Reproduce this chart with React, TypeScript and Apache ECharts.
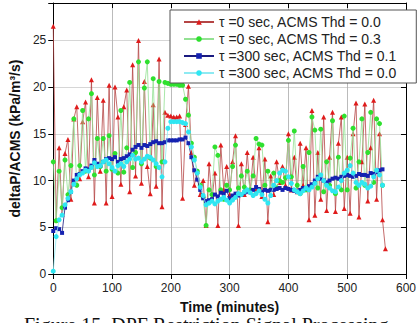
import React, { useEffect, useRef } from "react";
import * as echarts from "echarts";

const times = [
  0, 5, 10, 15, 20, 25, 30, 35, 40, 45,
  50, 55, 60, 65, 70, 75, 80, 85, 90, 95,
  100, 105, 110, 115, 120, 125, 130, 135, 140, 145,
  150, 155, 160, 165, 170, 175, 180, 185, 190, 195,
  200, 205, 210, 215, 220, 225, 230, 235, 240, 245,
  250, 255, 260, 265, 270, 275, 280, 285, 290, 295,
  300, 305, 310, 315, 320, 325, 330, 335, 340, 345,
  350, 355, 360, 365, 370, 375, 380, 385, 390, 395,
  400, 405, 410, 415, 420, 425, 430, 435, 440, 445,
  450, 455, 460, 465, 470, 475, 480, 485, 490, 495,
  500, 505, 510, 515, 520, 525, 530, 535, 540, 545,
  550, 555, 560, 565,
];

// tau = 0 sec, ACMS Thd = 0.0
const redValues = [
  26.5, 5.8, 13.5, 6.4, 12.9, 14.4, 8.0, 16.6, 17.9, 10.2,
  16.3, 18.4, 10.4, 20.8, 7.6, 18.9, 11.0, 18.6, 7.6, 20.2,
  8.3, 20.0, 16.8, 9.6, 17.9, 19.7, 8.8, 22.4, 10.5, 25.0,
  9.7, 20.6, 11.5, 8.6, 18.1, 9.4, 23.0, 7.2, 17.3, 17.0,
  16.9, 16.8, 16.8, 16.9, 8.1, 16.0, 20.1, 13.0, 9.5, 11.0,
  8.5, 10.0, 5.2, 11.8, 8.0, 10.8, 5.2, 13.8, 9.0, 11.5,
  8.5, 12.0, 14.8, 5.2, 11.8, 8.5, 13.0, 8.8, 12.5, 9.0,
  13.5, 8.3, 12.3, 5.6, 10.5, 8.5, 12.0, 9.8, 11.5, 9.5,
  15.0, 9.0, 12.5, 8.8, 14.0, 9.5, 13.5, 5.8, 17.5, 6.3,
  13.0, 8.0, 16.8, 6.8, 12.5, 17.3, 6.7, 14.0, 16.8, 7.0,
  12.5, 6.5, 15.0, 18.3, 6.1, 12.0, 18.2, 7.8, 13.5, 18.6,
  8.0, 15.0, 5.8, 2.7,
];

// tau = 0 sec, ACMS Thd = 0.3
const greenValues = [
  12.0, 5.7, 11.0, 7.1, 12.2, 8.5, 11.6, 16.6, 9.5, 11.6,
  17.5, 11.0, 16.6, 19.3, 10.6, 14.5, 11.5, 14.5, 11.0, 14.8,
  11.2, 12.9, 10.8, 17.5, 10.9, 13.5, 20.5, 11.4, 13.0, 22.7,
  11.8, 19.9, 22.7, 12.4, 20.9, 11.5, 20.6, 12.0, 20.5, 20.4,
  20.3, 20.3, 20.3, 20.2, 20.2, 18.7, 17.0, 14.0, 12.5, 11.0,
  9.5, 8.2, 5.2, 9.0, 8.5, 13.6, 12.7, 9.0, 8.0, 9.5,
  9.0, 11.5, 13.8, 9.2, 10.5, 9.3, 11.0, 9.0, 10.5, 14.5,
  13.9, 13.8, 9.5, 11.0, 9.0, 10.8, 9.2, 10.0, 9.8, 10.3,
  14.3, 10.4, 15.3, 9.5, 8.6, 11.5, 9.0, 13.0, 16.8, 15.4,
  9.2, 15.5, 8.8, 12.0, 9.5, 16.4, 8.6, 12.5, 9.0, 16.9,
  9.0, 12.4, 15.6, 9.2, 12.0, 16.6, 9.5, 13.0, 17.3, 9.8,
  16.6, 16.1, 9.5,
];

// tau = 300 sec, ACMS Thd = 0.1
const blueValues = [
  4.6, 4.9, 4.8, 4.4, 7.1, 7.9, 8.8, 10.0, 10.6, 10.7,
  11.0, 11.3, 11.2, 11.6, 12.2, 11.8, 11.6, 12.0, 12.3, 12.4,
  12.3, 12.5, 12.0, 12.3, 12.4, 12.6, 12.8, 13.3, 13.6, 13.8,
  13.5, 13.8, 13.7, 13.9, 14.1, 14.2, 14.0, 14.0, 14.1, 14.3,
  14.3, 14.3, 14.3, 14.4, 14.4, 14.6, 14.0, 12.5, 11.1, 10.1,
  9.0, 8.1, 7.8, 7.9, 8.0, 8.5, 8.3, 8.7, 8.6, 8.9,
  8.1, 8.4, 8.6, 8.4, 8.5, 8.7, 8.8, 8.8, 9.0, 9.3,
  9.1, 8.8, 9.0, 8.9, 9.0, 9.0, 9.1, 9.2, 9.0, 9.2,
  9.1, 9.0, 8.9, 8.8, 9.0, 9.2, 9.1, 9.4, 9.6, 10.0,
  10.4, 10.2, 10.0, 9.8, 10.0, 10.2, 10.3, 10.2, 10.4, 10.5,
  10.6, 10.5, 10.4, 10.5, 10.7, 10.6, 10.6, 10.5, 10.8, 10.7,
  10.9, 11.1, 11.2,
];

// tau = 300 sec, ACMS Thd = 0.0
const cyanValues = [
  0.3, 4.0, 5.8, 6.3, 7.4, 8.1, 8.8, 9.6, 10.2, 10.6,
  10.8, 11.1, 11.0, 11.4, 11.9, 11.5, 11.6, 12.0, 12.2, 11.8,
  11.4, 11.0, 11.6, 11.8, 11.5, 12.0, 12.3, 12.7, 12.3, 12.4,
  12.0, 12.3, 12.6, 12.5, 12.2, 11.8, 11.4, 10.4, 12.0, 15.6,
  16.3, 16.3, 16.3, 16.3, 16.2, 16.1, 15.2, 13.6, 12.2, 10.8,
  9.3, 8.4, 7.4, 7.6, 7.8, 7.5, 7.8, 8.0, 8.2, 7.9,
  7.6, 7.9, 8.2, 8.6, 8.5, 8.8, 9.0, 8.7, 8.4, 8.6,
  8.9, 8.5, 8.0, 7.6, 8.4, 9.5, 10.0, 10.8, 11.1, 11.0,
  10.4, 9.7, 9.0, 8.8, 8.6, 8.9, 9.2, 9.0, 9.3, 9.7,
  10.2, 10.6, 10.0, 9.5, 9.2, 8.9, 8.8, 9.3, 10.0, 10.8,
  11.1, 11.6, 10.8, 9.8, 9.5, 9.8, 9.6, 9.2, 9.4, 10.4,
  11.1, 10.6, 9.5,
];

const seriesNames = [
  "τ =0 sec, ACMS Thd = 0.0",
  "τ =0 sec, ACMS Thd = 0.3",
  "τ =300 sec, ACMS Thd = 0.1",
  "τ =300 sec, ACMS Thd = 0.0",
];

const xTicks = { min: 0, max: 600, interval: 100 };
const yTicks = { min: 0, max: 29, interval: 5 };

const FONT = "Liberation Sans, Arial, sans-serif";

function pairs(vals: number[]) {
  return vals.map((v, i) => [times[i], v]);
}

export default function App() {
  const ref = useRef<HTMLDivElement>(null);
  useEffect(() => {
    if (!ref.current) return;
    const chart = echarts.init(ref.current, undefined, { renderer: "svg" });
    const axisLine = { show: true, onZero: false, lineStyle: { color: "#000", width: 1 } };
    const option: any = {
      animation: false,
      backgroundColor: "#fff",
      grid: { left: 50, right: 6, top: 3, bottom: 49, containLabel: false },
      legend: {
        orient: "vertical",
        left: 170,
        top: 10,
        padding: [5, 19, 3, 13],
        itemGap: 3,
        itemWidth: 30,
        itemHeight: 7,
        backgroundColor: "#fff",
        borderColor: "#555",
        borderWidth: 1,
        borderRadius: 0,
        textStyle: { fontSize: 14, color: "#222", fontFamily: FONT },
        data: seriesNames,
      },
      xAxis: [
        {
          type: "value",
          ...xTicks,
          position: "bottom",
          axisLine,
          axisTick: { show: true, inside: false, length: 5, lineStyle: { color: "#000" } },
          axisLabel: { fontSize: 12, color: "#222", margin: 8, fontFamily: FONT },
          splitLine: { show: true, lineStyle: { color: "#aaa", width: 0.8 } },
          name: "Time (minutes)",
          nameLocation: "middle",
          nameGap: 26,
          nameTextStyle: { fontWeight: "bold", fontSize: 14, color: "#111", fontFamily: FONT },
        },
        {
          type: "value",
          ...xTicks,
          position: "top",
          axisLine,
          axisTick: { show: true, inside: true, length: 5, lineStyle: { color: "#000" } },
          axisLabel: { show: false },
          splitLine: { show: false },
        },
      ],
      yAxis: [
        {
          type: "value",
          ...yTicks,
          position: "left",
          axisLine,
          axisTick: { show: true, inside: false, length: 5, lineStyle: { color: "#000" } },
          axisLabel: {
            fontSize: 12,
            color: "#222",
            margin: 7,
            fontFamily: FONT,
            formatter: (v: number) => (v % 5 === 0 ? String(v) : ""),
          },
          splitLine: { show: true, lineStyle: { color: "#ccc", width: 0.8 } },
          name: "deltaP/ACMS (kPa/m³/s)",
          nameLocation: "middle",
          nameGap: 24,
          nameTextStyle: { fontWeight: "bold", fontSize: 14, color: "#111", fontFamily: FONT },
        },
        {
          type: "value",
          ...yTicks,
          position: "right",
          axisLine,
          axisTick: { show: true, inside: true, length: 5, lineStyle: { color: "#000" } },
          axisLabel: { show: false },
          splitLine: { show: false },
        },
      ],
      graphic: [
        {
          type: "text",
          left: 24,
          top: 315,
          style: {
            text: "Figure 15. DPF Restriction Signal Processing",
            font: '20px "Liberation Serif", "Times New Roman", serif',
            fill: "#111",
          },
        },
      ],
      series: [
        {
          name: seriesNames[0],
          type: "line",
          data: pairs(redValues),
          symbol: "triangle",
          symbolSize: 5,
          itemStyle: { color: "#e01b1b" },
          lineStyle: { color: "#b54545", width: 0.8 },
          z: 2,
        },
        {
          name: seriesNames[1],
          type: "line",
          data: pairs(greenValues),
          symbol: "circle",
          symbolSize: 5,
          itemStyle: { color: "#2fe02f" },
          lineStyle: { color: "#93e193", width: 0.8 },
          z: 3,
        },
        {
          name: seriesNames[2],
          type: "line",
          data: pairs(blueValues),
          symbol: "rect",
          symbolSize: 4,
          itemStyle: { color: "#1522b0" },
          lineStyle: { color: "#1a1a80", width: 0.8 },
          z: 4,
        },
        {
          name: seriesNames[3],
          type: "line",
          data: pairs(cyanValues),
          symbol: "circle",
          symbolSize: 5,
          itemStyle: { color: "#2fe6f2" },
          lineStyle: { color: "#8eeaf2", width: 0.8 },
          z: 5,
        },
      ],
    };
    chart.setOption(option);
    return () => chart.dispose();
  }, []);
  return (
    <div
      ref={ref}
      style={{ position: "fixed", left: 0, top: 0, width: 419, height: 323 }}
    />
  );
}
